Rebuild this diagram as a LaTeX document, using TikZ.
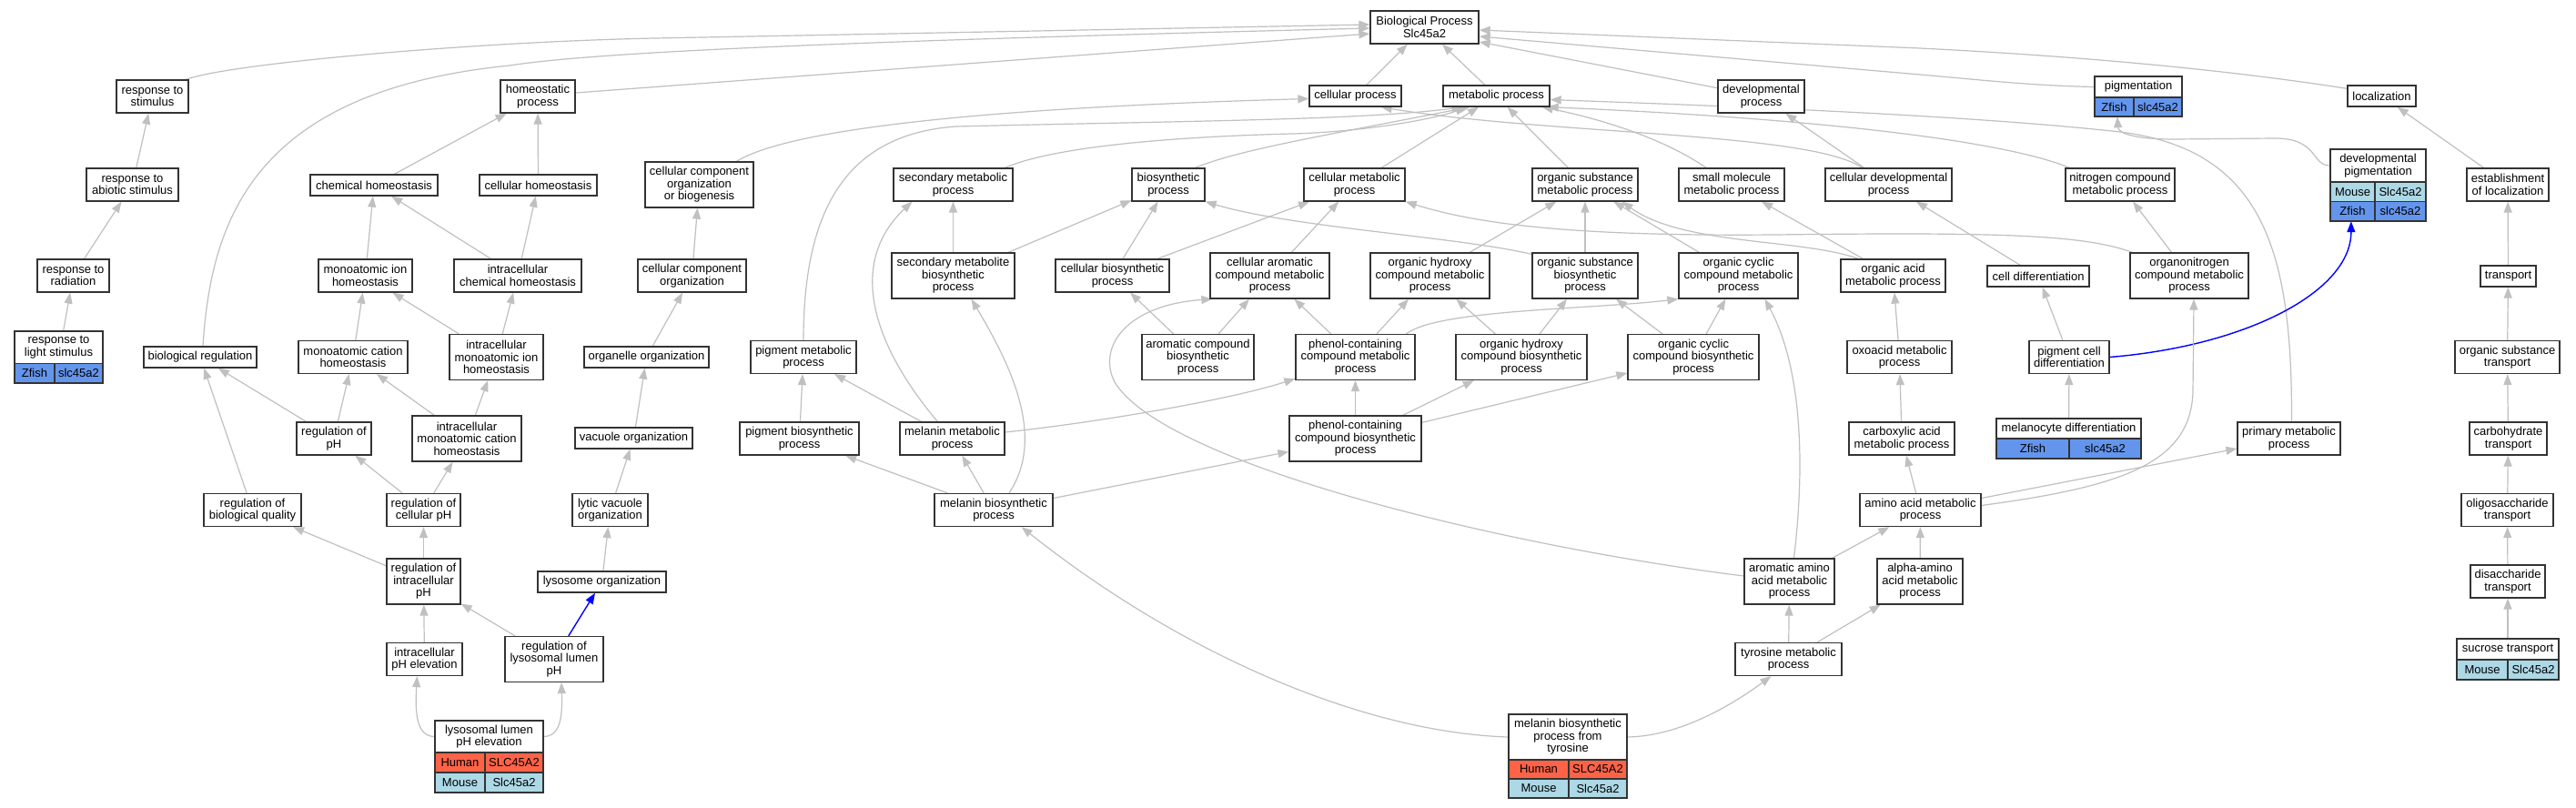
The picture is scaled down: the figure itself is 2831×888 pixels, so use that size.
\documentclass[tikz,border=0pt]{standalone}
\usepackage{fontspec}
\setmainfont{Liberation Sans}
\usetikzlibrary{arrows.meta,calc}
\pgfdeclarelayer{bg}
\pgfsetlayers{bg,main}
\definecolor{edgec}{HTML}{C0C0C0}
\definecolor{boxc}{HTML}{333333}
\definecolor{human}{HTML}{FF6347}
\definecolor{mouse}{HTML}{ADD8E6}
\definecolor{zfish}{HTML}{6495ED}
\newcommand{\nlab}{\fontsize{13}{13.5}\selectfont}
\tikzset{
  nbox/.style={draw=boxc, line width=1.3pt, fill=white, inner sep=0pt, align=center, font=\nlab},
  ghost/.style={draw=none, inner sep=0pt},
  cell/.style={draw=boxc, line width=1.3pt, inner sep=0pt, font=\nlab},
  gedge/.style={draw=edgec, line width=1.2pt, -{Triangle[length=12pt,width=9pt]}},
  bedge/.style={draw=blue, line width=1.4pt, -{Triangle[length=12pt,width=9pt]}}
}
\newcommand{\gobox}[6]{\node[nbox,minimum width=#4pt,minimum height=#5pt] (#1) at (#2,#3) {#6};}
\newcommand{\gnode}[7]{%
  \pgfmathsetmacro\gnw{#3-#2}\pgfmathsetmacro\gnh{#6-#4}\pgfmathsetmacro\gth{#5-#4}%
  \node[ghost,minimum width=\gnw pt,minimum height=\gnh pt] (#1) at ({(#2+#3)/2},{(#4+#6)/2}) {};%
  \node[nbox,minimum width=\gnw pt,minimum height=\gth pt] (#1-t) at ({(#2+#3)/2},{(#4+#5)/2}) {#7};}
\newcommand{\generow}[9]{%
  \pgfmathsetmacro\gxa{#2-#1}\pgfmathsetmacro\gxb{#3-#2}\pgfmathsetmacro\gyh{#5-#4}%
  \node[cell,fill=#6,minimum width=\gxa pt,minimum height=\gyh pt] (#9l) at ({(#1+#2)/2},{(#4+#5)/2}) {#7};%
  \node[cell,fill=#6,minimum width=\gxb pt,minimum height=\gyh pt] (#9r) at ({(#2+#3)/2},{(#4+#5)/2}) {#8};}
\begin{document}
\begin{tikzpicture}[x=1pt,y=-1pt]
\begin{pgfonlayer}{bg}
\fill[white] (0,0) rectangle (2831,888);
\end{pgfonlayer}
\useasboundingbox (0,0) rectangle (2831,888);
% ---- nodes ----
\gobox{BP}{1565.5}{30}{119}{36}{Biological Process\\Slc45a2}
\gobox{rs}{167.5}{106}{79}{36}{response to\\stimulus}
\gobox{hp}{591}{106}{82}{36}{homeostatic\\process}
\gobox{cp}{1489.5}{105.5}{101}{23}{cellular process}
\gobox{mp}{1644.5}{105.5}{117}{23}{metabolic process}
\gobox{dp}{1935.5}{106}{95}{36}{developmental\\process}
\gobox{loc}{2617.5}{105.5}{75}{23}{localization}
\gobox{ras}{145.5}{203}{101}{36}{response to\\abiotic stimulus}
\gobox{ch}{411}{203.5}{140}{23}{chemical homeostasis}
\gobox{chs}{591.5}{203.5}{129}{23}{cellular homeostasis}
\gobox{ccob}{768.5}{203}{119}{50}{cellular component\\organization\\or biogenesis}
\gobox{smp}{1047.5}{203}{131}{36}{secondary metabolic\\process}
\gobox{bsp}{1284}{203}{80}{36}{biosynthetic\\process}
\gobox{cmp}{1488.5}{203}{111}{36}{cellular metabolic\\process}
\gobox{osmp}{1742}{203}{116}{36}{organic substance\\metabolic process}
\gobox{smmp}{1903}{203}{116}{36}{small molecule\\metabolic process}
\gobox{cdp}{2075.5}{203}{139}{36}{cellular developmental\\process}
\gobox{ncmp}{2330}{203}{120}{36}{nitrogen compound\\metabolic process}
\gobox{eol}{2756}{203}{90}{36}{establishment\\of localization}
\gobox{rr}{80.5}{303}{79}{36}{response to\\radiation}
\gobox{mih}{401.5}{303}{103}{36}{monoatomic ion\\homeostasis}
\gobox{ich}{569}{303}{140}{36}{intracellular\\chemical homeostasis}
\gobox{cco}{760.5}{303}{119}{36}{cellular component\\organization}
\gobox{smbp}{1047.5}{303}{135}{50}{secondary metabolite\\biosynthetic\\process}
\gobox{cbp}{1222.5}{303}{125}{36}{cellular biosynthetic\\process}
\gobox{cacmp}{1395.5}{303}{131}{50}{cellular aromatic\\compound metabolic\\process}
\gobox{ohcmp}{1571.5}{303}{131}{50}{organic hydroxy\\compound metabolic\\process}
\gobox{osbp}{1742}{303}{116}{50}{organic substance\\biosynthetic\\process}
\gobox{occmp}{1910.5}{303}{131}{50}{organic cyclic\\compound metabolic\\process}
\gobox{oamp}{2080.5}{303}{115}{36}{organic acid\\metabolic process}
\gobox{cd}{2240}{303.5}{112}{23}{cell differentiation}
\gobox{oncmp}{2406}{303}{130}{50}{organonitrogen\\compound metabolic\\process}
\gobox{tr}{2756.5}{303.5}{61}{23}{transport}
\gobox{br}{220}{392.5}{124}{23}{biological regulation}
\gobox{mch}{388}{392.5}{120}{36}{monoatomic cation\\homeostasis}
\gobox{imih}{545.5}{392.5}{103}{50}{intracellular\\monoatomic ion\\homeostasis}
\gobox{oo}{710.5}{392.5}{137}{23}{organelle organization}
\gobox{pmp}{883}{392.5}{116}{36}{pigment metabolic\\process}
\gobox{acbp}{1316.5}{392.5}{123}{50}{aromatic compound\\biosynthetic\\process}
\gobox{pccmp}{1489.5}{392.5}{131}{50}{phenol-containing\\compound metabolic\\process}
\gobox{ohcbp}{1672}{392.5}{144}{50}{organic hydroxy\\compound biosynthetic\\process}
\gobox{occbp}{1861}{392.5}{144}{50}{organic cyclic\\compound biosynthetic\\process}
\gobox{oxmp}{2087.5}{392.5}{115}{36}{oxoacid metabolic\\process}
\gobox{pcd}{2274}{392.5}{88}{36}{pigment cell\\differentiation}
\gobox{ost}{2755.5}{392.5}{115}{36}{organic substance\\transport}
\gobox{rph}{367}{482}{82}{36}{regulation of\\pH}
\gobox{imch}{513}{482}{120}{50}{intracellular\\monoatomic cation\\homeostasis}
\gobox{vo}{696.5}{481.5}{129}{23}{vacuole organization}
\gobox{pbp}{878.5}{482}{131}{36}{pigment biosynthetic\\process}
\gobox{mmp}{1046.5}{482}{115}{36}{melanin metabolic\\process}
\gobox{pccbp}{1489.5}{482}{145}{50}{phenol-containing\\compound biosynthetic\\process}
\gobox{camp}{2090}{482}{116}{36}{carboxylic acid\\metabolic process}
\gobox{pmpr}{2515.5}{482}{113}{36}{primary metabolic\\process}
\gobox{ct}{2756.5}{482}{85}{36}{carbohydrate\\transport}
\gobox{rbq}{277.5}{560.5}{107}{36}{regulation of\\biological quality}
\gobox{rcph}{465.5}{560.5}{81}{36}{regulation of\\cellular pH}
\gobox{lvo}{670.5}{560.5}{83}{36}{lytic vacuole\\organization}
\gobox{mbp}{1092}{560.5}{130}{36}{melanin biosynthetic\\process}
\gobox{aamp}{2110.5}{560.5}{133}{36}{amino acid metabolic\\process}
\gobox{olt}{2755.5}{560.5}{101}{36}{oligosaccharide\\transport}
\gobox{riph}{465.5}{639}{81}{50}{regulation of\\intracellular\\pH}
\gobox{lo}{661.5}{639.5}{141}{23}{lysosome organization}
\gobox{aaamp}{1966.5}{639}{99}{50}{aromatic amino\\acid metabolic\\process}
\gobox{alpha}{2110}{639}{94}{50}{alpha-amino\\acid metabolic\\process}
\gobox{dt}{2756}{639}{82}{36}{disaccharide\\transport}
\gobox{iphe}{466.5}{724.5}{83}{36}{intracellular\\pH elevation}
\gobox{rllph}{609}{724.5}{108}{50}{regulation of\\lysosomal lumen\\pH}
\gobox{tmp}{1965.5}{724.5}{117}{36}{tyrosine metabolic\\process}
% gene nodes
\gnode{rls}{16}{113}{364}{399.5}{421}{response to\\light stimulus}
\generow{16}{60}{113}{399.5}{421}{zfish}{Zfish}{slc45a2}{rlsa}
\gnode{pig}{2302}{2398}{84}{107}{128}{pigmentation}
\generow{2302}{2345}{2398}{107}{128}{zfish}{Zfish}{slc45a2}{piga}
\gnode{devpig}{2561}{2666}{164}{200}{243}{developmental\\pigmentation}
\generow{2561}{2610}{2666}{200}{221.5}{mouse}{Mouse}{Slc45a2}{devpiga}
\generow{2561}{2610}{2666}{221.5}{243}{zfish}{Zfish}{slc45a2}{devpigb}
\gnode{md}{2194}{2353}{460}{482}{504}{melanocyte differentiation}
\generow{2194}{2274}{2353}{482}{504}{zfish}{Zfish}{slc45a2}{mda}
\gnode{st}{2700}{2812}{702}{725}{747}{sucrose transport}
\generow{2700}{2756}{2812}{725}{747}{mouse}{Mouse}{Slc45a2}{sta}
\gnode{llphe}{478}{597}{792}{827}{871}{lysosomal lumen\\pH elevation}
\generow{478}{533}{597}{827}{849}{human}{Human}{SLC45A2}{llphea}
\generow{478}{533}{597}{849}{871}{mouse}{Mouse}{Slc45a2}{llpheb}
\gnode{mbpt}{1658}{1788}{785}{835}{877}{melanin biosynthetic\\process from\\tyrosine}
\generow{1658}{1724}{1788}{835}{856}{human}{Human}{SLC45A2}{mbpta}
\generow{1658}{1724}{1788}{856}{877}{mouse}{Mouse}{Slc45a2}{mbptb}
% ---- edges ----
\begin{pgfonlayer}{bg}
\draw[gedge] ($(rs.north east)+(-3,0)$) .. controls (250,70) and (520,46) .. (720,42) -- ($(BP.west)+(0,-3)$);
\draw[gedge] ($(br.north)+(3,0)$) .. controls (232,240) and (280,100) .. (560,72) .. controls (650,58) and (900,46) .. ($(BP.west)+(0,1)$);
\draw[gedge] ($(hp.east)+(0,-4)$) -- ($(BP.west)+(0,7)$);
\draw[gedge] ($(ccob.north)+(41,0)$) .. controls (870,140) and (1100,118) .. ($(cp.west)+(0,3)$);
\draw[gedge] (pmp.north) .. controls (883,230) and (930,148) .. (1050,139) .. controls (1300,133) and (1500,132) .. ($(mp.south west)+(22,0)$);
\draw[gedge] ($(smp.north east)+(-9,0)$) .. controls (1160,160) and (1300,150) .. (1420,147) .. controls (1500,145) and (1580,130) .. ($(mp.south west)+(26,0)$);
\draw[gedge] ($(bsp.north east)+(-11,0)$) .. controls (1360,165) and (1450,150) .. ($(mp.south west)+(30,0)$);
\draw[gedge] (cmp) -- (mp);
\draw[gedge] (osmp) -- (mp);
\draw[gedge] ($(smmp.north)+(-28,0)$) .. controls (1840,160) and (1780,135) .. ($(mp.south east)+(-9,0)$);
\draw[gedge] ($(ncmp.north west)+(5,0)$) .. controls (2190,150) and (1950,128) .. ($(mp.south east)+(-3,0)$);
\draw[gedge] ($(pmpr.north)+(3,0)$) .. controls (2519,280) and (2490,165) .. (2330,145) .. controls (2150,125) and (1850,115) .. ($(mp.east)+(0,4)$);
\draw[gedge] ($(cdp.north west)+(41,0)$) .. controls (1990,145) and (1700,148) .. ($(cp.south east)+(-23,0)$);
\draw[gedge] (cdp) -- (dp);
\draw[gedge] (dp) -- ($(BP.east)+(0,16)$);
\draw[gedge] (pig-t.west) .. controls (2230,94) and (2180,88) .. (2110,82) -- ($(BP.east)+(0,10)$);
\draw[gedge] ($(loc.north west)+(0,4)$) .. controls (2500,85) and (2350,65) .. (2110,53) -- ($(BP.east)+(0,3)$);
\draw[gedge] (cp) -- (BP);
\draw[gedge] (mp) -- (BP);
\draw[gedge] (eol) -- (loc);
\draw[gedge] (devpig-t.west) .. controls (2540,182) and (2548,152) .. (2500,152) -- (2390,153) .. controls (2340,153) and (2328,145) .. ($(pig.south west)+(25,0)$);
\draw[bedge] (pcd.east) .. controls (2470,380) and (2584,320) .. ($(devpig.south west)+(23,0)$);
\draw[gedge] ($(aamp.east)+(0,-5)$) .. controls (2330,535) and (2408,510) .. (2410,430) -- ($(oncmp.south)+(5,0)$);
\draw[gedge] (aamp) -- (pmpr);
\draw[gedge] ($(aaamp.north)+(5,0)$) .. controls (1985,500) and (1978,400) .. ($(occmp.south)+(29,0)$);
\draw[gedge] ($(aaamp.west)+(0,-6)$) .. controls (1650,600) and (1280,510) .. (1225,420) .. controls (1205,380) and (1240,335) .. ($(cacmp.south west)+(3,0)$);
\draw[gedge] (tmp) -- (aaamp);
\draw[gedge] (tmp) -- (alpha);
\draw[gedge] (mbpt-t.east) .. controls (1850,809) and (1910,770) .. ($(tmp.south west)+(40,0)$);
\draw[gedge] (mbpt-t.west) .. controls (1500,805) and (1300,720) .. ($(mbp.south east)+(-35,0)$);
\draw[gedge] (mbp) -- (pbp);
\draw[gedge] (mbp) -- (mmp);
\draw[gedge] (mbp) -- (pccbp);
\draw[gedge] ($(mbp.north)+(17,0)$) .. controls (1150,480) and (1110,400) .. ($(smbp.south)+(20,0)$);
\draw[gedge] (mmp) -- (pmp);
\draw[gedge] ($(mmp.north west)+(42,0)$) .. controls (960,380) and (930,290) .. ($(smp.south west)+(21,0)$);
\draw[gedge] ($(mmp.east)+(0,-7)$) .. controls (1200,465) and (1350,440) .. ($(pccmp.south west)+(0,-2)$);
\draw[gedge] (pbp) -- (pmp);
\draw[gedge] (smbp) -- (smp);
\draw[gedge] (smbp) -- (bsp);
\draw[gedge] (cbp) -- (bsp);
\draw[gedge] (cbp) -- (cmp);
\draw[gedge] (acbp) -- (cbp);
\draw[gedge] (acbp) -- (cacmp);
\draw[gedge] (cacmp) -- (cmp);
\draw[gedge] ($(osbp.north west)+(0,2)$) .. controls (1600,260) and (1420,250) .. (bsp.south east);
\draw[gedge] (osbp) -- (osmp);
\draw[gedge] (ohcmp) -- (osmp);
\draw[gedge] (occmp) -- (osmp);
\draw[gedge] ($(oamp.north west)+(20,0)$) .. controls (1980,262) and (1850,270) .. ($(osmp.south east)+(-18,0)$);
\draw[gedge] (oamp) -- (smmp);
\draw[gedge] ($(oncmp.north west)+(3,0)$) .. controls (2290,258) and (2200,255) .. (1950,258) .. controls (1720,260) and (1620,245) .. (cmp.south east);
\draw[gedge] (oncmp) -- (ncmp);
\draw[gedge] (oxmp) -- (oamp);
\draw[gedge] (camp) -- (oxmp);
\draw[gedge] (aamp) -- (camp);
\draw[gedge] (alpha) -- (aamp);
\draw[gedge] (aaamp) -- (aamp);
\draw[gedge] (pccmp) -- (cacmp);
\draw[gedge] (pccmp) -- (ohcmp);
\draw[gedge] ($(pccmp.north east)+(-10,0)$) .. controls (1580,340) and (1750,340) .. (occmp.south west);
\draw[gedge] (ohcbp) -- (ohcmp);
\draw[gedge] (ohcbp) -- (osbp);
\draw[gedge] (occbp) -- (osbp);
\draw[gedge] (occbp) -- (occmp);
\draw[gedge] (pccbp) -- (pccmp);
\draw[gedge] (pccbp) -- (ohcbp);
\draw[gedge] (pccbp) -- (occbp);
\draw[gedge] (md) -- (pcd);
\draw[gedge] (pcd) -- (cd);
\draw[gedge] (cd) -- (cdp);
\draw[gedge] (tr) -- (eol);
\draw[gedge] (ost) -- (tr);
\draw[gedge] (ct) -- (ost);
\draw[gedge] (olt) -- (ct);
\draw[gedge] (dt) -- (olt);
\draw[gedge] (st) -- (dt);
\draw[gedge] (ras) -- (rs);
\draw[gedge] (rr) -- (ras);
\draw[gedge] (rls) -- (rr);
\draw[gedge] (ch) -- (hp);
\draw[gedge] (chs) -- (hp);
\draw[gedge] (mih) -- (ch);
\draw[gedge] (ich) -- (ch);
\draw[gedge] (ich) -- (chs);
\draw[gedge] (mch) -- (mih);
\draw[gedge] (imih) -- (mih);
\draw[gedge] (imih) -- (ich);
\draw[gedge] (rbq) -- (br);
\draw[gedge] (rph) -- (br);
\draw[gedge] (rph) -- (mch);
\draw[gedge] (imch) -- (mch);
\draw[gedge] (imch) -- (imih);
\draw[gedge] (rcph) -- (rph);
\draw[gedge] (rcph) -- (imch);
\draw[gedge] (riph) -- (rcph);
\draw[gedge] (riph) -- (rbq);
\draw[gedge] (iphe) -- (riph);
\draw[gedge] (rllph) -- (riph);
\draw[bedge] (rllph) -- (lo);
\draw[gedge] (lo) -- (lvo);
\draw[gedge] (lvo) -- (vo);
\draw[gedge] (vo) -- (oo);
\draw[gedge] (oo) -- (cco);
\draw[gedge] (cco) -- (ccob);
\draw[gedge] (llphe-t.west) .. controls (458,809) and (456,785) .. ($(iphe.south west)+(34,0)$);
\draw[gedge] (llphe-t.east) .. controls (617,809) and (618,785) .. ($(rllph.south)+(8,0)$);
\end{pgfonlayer}
\end{tikzpicture}
\end{document}
